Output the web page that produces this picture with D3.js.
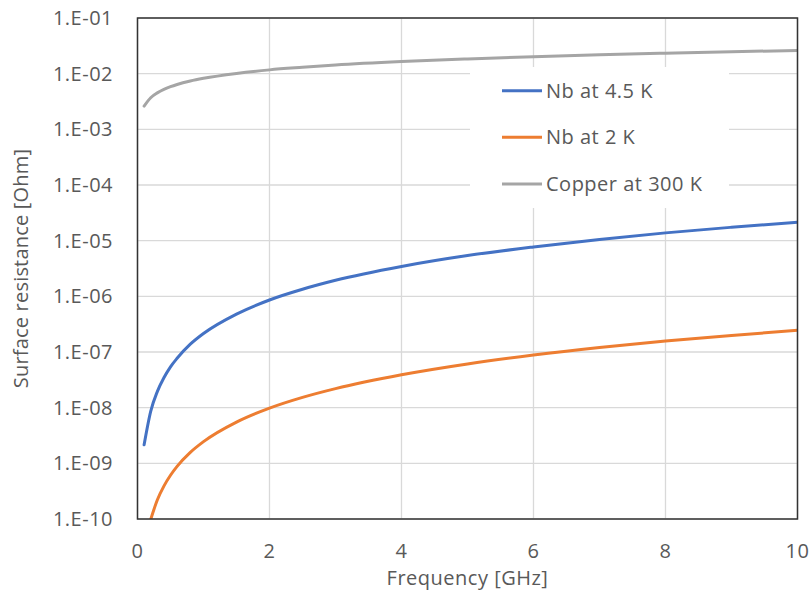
<!DOCTYPE html>
<html>
<head>
<meta charset="utf-8">
<script src="https://cdn.jsdelivr.net/npm/d3@7"></script>
<style>
  html, body { margin: 0; padding: 0; background: #fff; }
  svg text { font-family: "Open Sans", "Liberation Sans", sans-serif; fill: #595959; }
</style>
</head>
<body>
<svg id="chart" width="811" height="598"></svg>
<script>
// frequencies in GHz
const freq = [0.1, 0.2, 0.3, 0.4, 0.5, 0.6, 0.8, 1, 1.5, 2, 2.5, 3, 4, 5, 6, 7, 8, 9, 10];

// surface resistance [Ohm]
const nb45 = [2.15e-9, 8.6e-9, 1.94e-8, 3.44e-8, 5.4e-8, 7.7e-8, 1.38e-7, 2.15e-7, 4.8e-7, 8.6e-7,
  1.34e-6, 1.94e-6, 3.44e-6, 5.4e-6, 7.7e-6, 1.05e-5, 1.38e-5, 1.74e-5, 2.15e-5];
const nb2 = [null, 9.8e-11, 2.2e-10, 3.9e-10, 6.1e-10, 8.8e-10, 1.57e-9, 2.45e-9, 5.5e-9, 9.8e-9,
  1.53e-8, 2.2e-8, 3.9e-8, 6.1e-8, 8.8e-8, 1.2e-7, 1.57e-7, 1.98e-7, 2.45e-7];
const copper = [2.61e-3, 3.69e-3, 4.52e-3, 5.22e-3, 5.83e-3, 6.39e-3, 7.38e-3, 8.25e-3, 1.01e-2, 1.17e-2,
  1.3e-2, 1.43e-2, 1.65e-2, 1.84e-2, 2.02e-2, 2.18e-2, 2.33e-2, 2.48e-2, 2.61e-2];

const seriesNames = ["Nb at 4.5 K", "Nb at 2 K", "Copper at 300 K"];
const seriesColors = ["#4472C4", "#ED7D31", "#A5A5A5"];
const seriesValues = [nb45, nb2, copper];

const xTicks = [0, 2, 4, 6, 8, 10];
const yTicks = [1e-10, 1e-9, 1e-8, 1e-7, 1e-6, 1e-5, 1e-4, 1e-3, 1e-2, 1e-1];

const svg = d3.select("#chart");
const plotL = 137.5, plotR = 797.5, plotT = 18, plotB = 519;
const fs = 20, ls = 0.5;

const x = d3.scaleLinear().domain([0, 10]).range([plotL, plotR]);
const y = d3.scaleLog().domain([1e-10, 1e-1]).range([plotB, plotT]);

function yLabel(v) {
  const e = Math.round(Math.log10(v));
  return "1.E" + (e < 0 ? "-" : "+") + String(Math.abs(e)).padStart(2, "0");
}

// gridlines
svg.append("g")
  .selectAll("line")
  .data(yTicks)
  .join("line")
  .attr("x1", plotL).attr("x2", plotR)
  .attr("y1", d => y(d)).attr("y2", d => y(d))
  .attr("stroke", "#d9d9d9").attr("stroke-width", 1.3);

svg.append("g")
  .selectAll("line")
  .data(xTicks)
  .join("line")
  .attr("x1", d => x(d)).attr("x2", d => x(d))
  .attr("y1", plotT).attr("y2", plotB)
  .attr("stroke", "#d9d9d9").attr("stroke-width", 1.3);

// legend background hides grid (drawn under curves)
const lg = svg.append("g");
lg.append("rect")
  .attr("x", 470).attr("y", 67).attr("width", 259).attr("height", 141)
  .attr("fill", "#fff");

// curves
svg.append("clipPath").attr("id", "plotclip")
  .append("rect").attr("x", plotL).attr("y", plotT)
  .attr("width", plotR - plotL).attr("height", plotB - plotT);

const line = d3.line()
  .defined(d => d[1] != null)
  .x(d => x(d[0]))
  .y(d => y(d[1]))
  .curve(d3.curveMonotoneX);

const curves = svg.append("g").attr("clip-path", "url(#plotclip)");
seriesValues.forEach((vals, i) => {
  curves.append("path")
    .datum(freq.map((f, j) => [f, vals[j]]))
    .attr("d", line)
    .attr("fill", "none")
    .attr("stroke", seriesColors[i])
    .attr("stroke-width", 3)
    .attr("stroke-linecap", "round")
    .attr("stroke-linejoin", "round");
});

// frame
svg.append("rect")
  .attr("x", plotL).attr("y", plotT)
  .attr("width", plotR - plotL).attr("height", plotB - plotT)
  .attr("fill", "none").attr("stroke", "#333").attr("stroke-width", 1.5);

// y tick labels
svg.append("g")
  .selectAll("text")
  .data(yTicks)
  .join("text")
  .attr("x", 113).attr("y", d => y(d))
  .attr("dy", "0.35em")
  .attr("text-anchor", "end")
  .attr("font-size", fs)
  .attr("letter-spacing", ls)
  .text(yLabel);

// x tick labels
svg.append("g")
  .selectAll("text")
  .data(xTicks)
  .join("text")
  .attr("x", d => x(d)).attr("y", 558)
  .attr("text-anchor", "middle")
  .attr("font-size", fs)
  .attr("letter-spacing", ls)
  .text(d => d);

// axis titles
svg.append("text")
  .attr("x", (plotL + plotR) / 2).attr("y", 585)
  .attr("text-anchor", "middle")
  .attr("font-size", fs)
  .attr("letter-spacing", ls)
  .text("Frequency [GHz]");

svg.append("text")
  .attr("transform", `translate(28,${(plotT + plotB) / 2}) rotate(-90)`)
  .attr("text-anchor", "middle")
  .attr("font-size", fs)
  .attr("letter-spacing", 0.2)
  .text("Surface resistance [Ohm]");

// legend
const legendY = [90.7, 137.3, 184];
seriesNames.forEach((name, i) => {
  lg.append("line")
    .attr("x1", 502).attr("x2", 542)
    .attr("y1", legendY[i]).attr("y2", legendY[i])
    .attr("stroke", seriesColors[i]).attr("stroke-width", 3);
  svg.append("text")
    .attr("x", 546).attr("y", legendY[i])
    .attr("dy", "0.35em")
    .attr("font-size", fs)
    .attr("letter-spacing", ls)
    .text(name);
});
</script>
</body>
</html>
